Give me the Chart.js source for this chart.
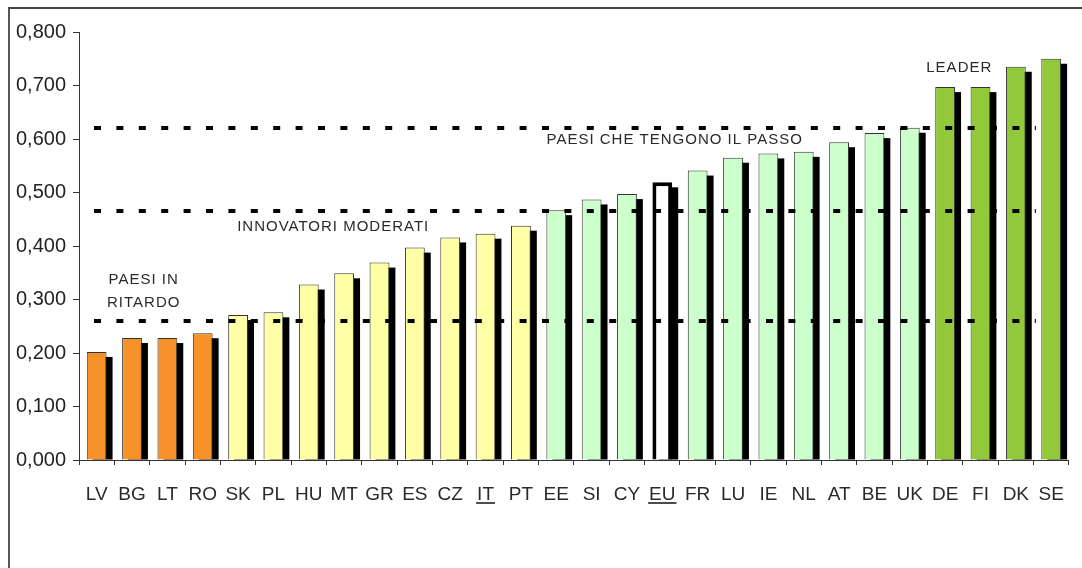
<!DOCTYPE html>
<html lang="it">
<head>
    <meta charset="UTF-8">
    <title>Innovazione - paesi UE</title>
    <script src="https://cdn.jsdelivr.net/npm/chart.js"></script>
    <style>
        html, body { margin: 0; padding: 0; background: #fff; }
        #wrap { position: relative; width: 1082px; height: 568px; }
        #frame { position: absolute; left: 8px; top: 7px; right: 0; bottom: 0;
                 border-left: 2px solid #555; border-top: 2px solid #444; pointer-events: none; }
    </style>
</head>
<body>
    <div id="wrap">
        <canvas id="chart" width="1082" height="568"></canvas>
        <div id="frame"></div>
    </div>

    <script>
        // data
        var labels = ['LV','BG','LT','RO','SK','PL','HU','MT','GR','ES','CZ','IT','PT',
                      'EE','SI','CY','EU','FR','LU','IE','NL','AT','BE','UK','DE','FI','DK','SE'];
        var values = [0.202,0.228,0.228,0.237,0.271,0.276,0.328,0.349,0.369,0.397,0.416,0.423,0.438,
                      0.467,0.487,0.497,0.519,0.541,0.565,0.573,0.576,0.594,0.611,0.621,0.697,0.697,0.735,0.750];
        var groups = ['R','R','R','R','M','M','M','M','M','M','M','M','M',
                      'P','P','P','EU','P','P','P','P','P','P','P','L','L','L','L'];
        var thresholds = [0.26, 0.466, 0.62];
        var underlined = ['IT', 'EU'];
        var groupNames = [['PAESI IN', 'RITARDO'], ['INNOVATORI MODERATI'],
                          ['PAESI CHE TENGONO IL PASSO'], ['LEADER']];

        var fills = { R: '#f7922b', M: '#ffffa6', P: '#ccffcc', EU: '#ffffff', L: '#93c83a' };

        var shadowPlugin = {
            id: 'shadow',
            beforeDatasetsDraw: function(chart) {
                var ctx = chart.ctx;
                var bars = chart.getDatasetMeta(0).data;
                ctx.save();
                ctx.fillStyle = '#000';
                bars.forEach(function(b) {
                    var w = b.width;
                    ctx.fillRect(b.x - w / 2 + 6, b.y + 5, w, b.base - b.y - 5);
                });
                ctx.restore();
            }
        };

        var extrasPlugin = {
            id: 'extras',
            afterDatasetsDraw: function(chart) {
                var ctx = chart.ctx, xs = chart.scales.x, ys = chart.scales.y;
                var a = chart.chartArea;
                ctx.save();
                // dashed group limits
                ctx.strokeStyle = '#000';
                ctx.lineWidth = 4;
                ctx.setLineDash([7, 15.4]);
                thresholds.forEach(function(t) {
                    var y = Math.round(ys.getPixelForValue(t));
                    ctx.beginPath();
                    ctx.moveTo(a.left + 15, y);
                    ctx.lineTo(a.right - 33, y);
                    ctx.stroke();
                });
                ctx.setLineDash([]);

                // group names
                var pos = [[1.33, 0.336], [6.69, 0.4355], [16.35, 0.598], [24.4, 0.733]];
                var x0 = xs.getPixelForValue(0), step = xs.getPixelForValue(1) - x0;
                ctx.font = '15px "Liberation Sans", Arial, sans-serif';
                ctx.letterSpacing = '1px';
                ctx.fillStyle = '#2a2a2a';
                ctx.textAlign = 'center';
                ctx.textBaseline = 'middle';
                groupNames.forEach(function(lines, i) {
                    var x = x0 + pos[i][0] * step;
                    var y = ys.getPixelForValue(pos[i][1]);
                    lines.forEach(function(s, k) {
                        ctx.fillText(s, x, y + k * 23);
                    });
                });
                ctx.restore();
            },
            afterDraw: function(chart) {
                var ctx = chart.ctx, xs = chart.scales.x;
                ctx.save();
                ctx.font = '19px "Liberation Sans", Arial, sans-serif';
                ctx.strokeStyle = '#111';
                ctx.lineWidth = 1.5;
                underlined.forEach(function(l) {
                    var i = labels.indexOf(l);
                    var x = xs.getPixelForValue(i);
                    var w = ctx.measureText(l).width;
                    ctx.beginPath();
                    ctx.moveTo(x - w / 2 - 1, 503);
                    ctx.lineTo(x + w / 2 + 1, 503);
                    ctx.stroke();
                });
                ctx.restore();
            }
        };

        var ctx = document.getElementById('chart').getContext('2d');
        var chart = new Chart(ctx, {
            type: 'bar',
            data: {
                labels: labels,
                datasets: [{
                    data: values,
                    backgroundColor: groups.map(function(g) { return fills[g]; }),
                    borderColor: groups.map(function(g) { return g === 'EU' ? '#000' : '#333'; }),
                    borderWidth: groups.map(function(g) { return g === 'EU' ? 4 : 1; }),
                    categoryPercentage: 1,
                    barPercentage: 0.56
                }]
            },
            options: {
                responsive: false,
                animation: false,
                layout: { padding: { left: 0, top: 32, right: 7, bottom: 0 } },
                plugins: { legend: { display: false }, tooltip: { enabled: false } },
                scales: {
                    y: {
                        min: 0, max: 0.8,
                        afterFit: function(s) { s.width = 79; },
                        border: { display: true, color: '#333', width: 1 },
                        grid: { drawOnChartArea: false, drawTicks: true, tickLength: 6, color: '#333' },
                        ticks: {
                            stepSize: 0.1,
                            padding: 7,
                            color: '#222',
                            font: { family: '"Liberation Sans", Arial, sans-serif', size: 20 },
                            callback: function(v) { return v.toFixed(3).replace('.', ','); }
                        }
                    },
                    x: {
                        afterFit: function(s) { s.height = 108; },
                        border: { display: true, color: '#333', width: 1 },
                        grid: { offset: true, drawOnChartArea: false, drawTicks: true, tickLength: 5, color: '#333' },
                        ticks: {
                            padding: 18,
                            color: '#2a2a2a',
                            maxRotation: 0,
                            autoSkip: false,
                            font: { family: '"Liberation Sans", Arial, sans-serif', size: 19 }
                        }
                    }
                }
            },
            plugins: [shadowPlugin, extrasPlugin]
        });
    </script>
</body>
</html>
